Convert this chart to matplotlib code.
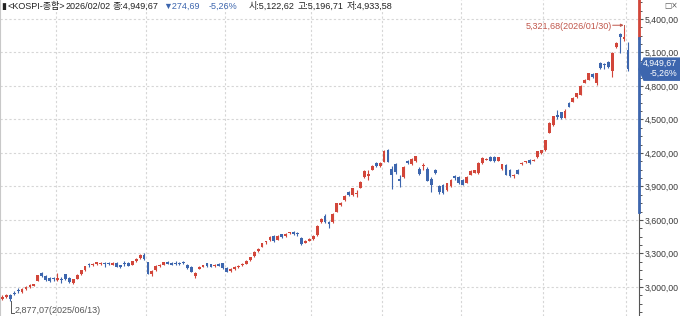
import matplotlib
matplotlib.use("Agg")
import matplotlib.pyplot as plt
import matplotlib.transforms as mtransforms
from matplotlib.patches import Polygon
from matplotlib.ticker import AutoMinorLocator, FixedLocator
import numpy as np

# KOSPI daily candles, 2025/06/11 .. 2026/02/02
opens = [2895, 2910, 2930, 2950, 2975, 2955, 2978, 3000, 3010, 3055, 3125, 3100, 3080, 3075,
         3062, 3070, 3115, 3080, 3035, 3075, 3115, 3150, 3200, 3195, 3205, 3208, 3212, 3216, 3200,
         3216, 3196, 3210, 3215, 3200, 3230, 3258, 3290,
         3220, 3112, 3150, 3185, 3200, 3226, 3216, 3215, 3212, 3228, 3200, 3178, 3095, 3165, 3180,
         3212, 3202, 3185, 3206, 3212,
         3172, 3140, 3160, 3178, 3195, 3210, 3240, 3275, 3320, 3362, 3400, 3420, 3455, 3425, 3470,
         3455, 3482, 3492, 3485, 3440, 3395, 3415,
         3430, 3465, 3585, 3640, 3580, 3580, 3675, 3735, 3775, 3850, 3820, 3830, 3890, 3985, 3990,
         4050, 4110, 4080,
         4120, 4230, 4060, 4100, 3970, 3985, 4130, 4100, 4125, 4060, 4080, 4060, 3970, 4048, 3905,
         3915, 3870, 3900, 3990, 3985,
         3960, 3935, 4005, 4025, 4020, 4110, 4140, 4165, 4165, 4130, 4055, 4095, 4050, 3995, 4050,
         4100, 4115, 4140, 4130, 4160, 4200,
         4225, 4380, 4450, 4540, 4565, 4515, 4650, 4660, 4700, 4720, 4830, 4855, 4905, 4830, 5005,
         4990, 5015, 4930, 5150, 5265, 5221,
         5122.62]
highs = [2925, 2935, 2935, 2960, 2995, 2992, 3005, 3028, 3030, 3110, 3135, 3110, 3090, 3090,
         3125, 3090, 3120, 3088, 3075, 3115, 3155, 3190, 3215, 3215, 3225, 3222, 3222, 3222, 3220,
         3220, 3200, 3236, 3220, 3236, 3255, 3295, 3305,
         3225, 3150, 3195, 3205, 3228, 3232, 3222, 3232, 3222, 3235, 3208, 3185, 3132, 3185, 3200,
         3218, 3210, 3205, 3212, 3218,
         3178, 3168, 3185, 3198, 3215, 3238, 3270, 3318, 3350, 3398, 3415, 3452, 3462, 3465, 3478,
         3480, 3495, 3498, 3490, 3445, 3420, 3435,
         3462, 3555, 3618, 3650, 3590, 3665, 3752, 3760, 3820, 3860, 3890, 3865, 3948, 4048, 4045,
         4090, 4120, 4115,
         4226, 4240, 4080, 4110, 4000, 4080, 4140, 4158, 4175, 4070, 4110, 4070, 3985, 4060, 3915,
         3925, 3935, 3965, 4005, 3992,
         3968, 3990, 4045, 4050, 4115, 4160, 4158, 4172, 4170, 4165, 4105, 4100, 4055, 4010, 4055,
         4115, 4130, 4145, 4145, 4220, 4230,
         4320, 4475, 4535, 4585, 4570, 4590, 4660, 4700, 4740, 4805, 4860, 4920, 4912, 4920, 5015,
         5010, 5020, 5100, 5190, 5275, 5321.68,
         5196.71]
lows = [2885, 2900, 2877.07, 2925, 2950, 2948, 2970, 2995, 3005, 3050, 3090, 3055, 3045, 3055,
        3050, 3040, 3065, 3035, 3025, 3070, 3110, 3145, 3178, 3188, 3198, 3200, 3180, 3195, 3195,
        3175, 3168, 3188, 3185, 3195, 3225, 3252, 3245,
        3112, 3100, 3145, 3178, 3195, 3205, 3195, 3195, 3198, 3205, 3165, 3130, 3078, 3160, 3175,
        3180, 3175, 3178, 3185, 3160,
        3130, 3135, 3150, 3172, 3190, 3205, 3235, 3270, 3315, 3355, 3385, 3412, 3405, 3418, 3435,
        3450, 3470, 3462, 3455, 3375, 3390, 3410,
        3425, 3460, 3570, 3570, 3530, 3575, 3668, 3725, 3770, 3815, 3815, 3810, 3885, 3980, 3960,
        4045, 4070, 4075,
        4115, 4115, 3880, 4015, 3895, 3980, 4100, 4095, 4120, 4005, 4050, 3950, 3850, 4010, 3830,
        3835, 3860, 3895, 3960, 3925,
        3910, 3930, 4000, 4020, 4015, 4105, 4135, 4125, 4120, 4125, 4050, 4000, 3985, 3980, 4010,
        4095, 4110, 4105, 4125, 4155, 4195,
        4220, 4375, 4445, 4505, 4505, 4510, 4610, 4655, 4695, 4715, 4825, 4850, 4875, 4810, 4955,
        4950, 4965, 4880, 5140, 5095, 5200,
        4933.58]
closes = [2912, 2925, 2895, 2935, 2966, 2985, 3000, 3020, 3025, 3105, 3095, 3060, 3050, 3068,
          3078, 3062, 3070, 3042, 3068, 3110, 3148, 3185, 3194, 3210, 3220, 3216, 3204, 3204, 3214,
          3180, 3175, 3204, 3190, 3230, 3250, 3290, 3250,
          3120, 3145, 3190, 3200, 3222, 3210, 3200, 3208, 3206, 3212, 3172, 3135, 3125, 3180, 3196,
          3186, 3180, 3200, 3190, 3166,
          3138, 3162, 3178, 3192, 3208, 3230, 3264, 3314, 3344, 3393, 3407, 3448, 3412, 3460, 3444,
          3470, 3486, 3470, 3470, 3386, 3415, 3430,
          3455, 3549, 3610, 3584, 3561, 3657, 3748, 3748, 3814, 3823, 3883, 3845, 3941, 4042, 4010,
          4081, 4086, 4107,
          4221, 4121, 4004, 4026, 3953, 4073, 4106, 4150, 4170, 4011, 4089, 3953, 3915, 4020, 3853,
          3846, 3930, 3960, 3978, 3930,
          3915, 3985, 4040, 4045, 4110, 4155, 4150, 4130, 4125, 4160, 4100, 4005, 3990, 4005, 4015,
          4110, 4125, 4110, 4140, 4215, 4225,
          4315, 4470, 4530, 4525, 4510, 4580, 4615, 4695, 4735, 4800, 4855, 4915, 4880, 4915, 4960,
          4984, 4970, 5095, 5185, 5240, 5239,
          4949.67]

month_starts = [14, 37, 57, 79, 97, 117, 138, 159]   # first candle of Jul .. Feb
yticks = [3000, 3300, 3600, 3900, 4200, 4500, 4800, 5100, 5400]
high_label = "5,321,68(2026/01/30)"
low_label = "2,877,07(2025/06/13)"
header = ["▮", "<KOSPI-종합>", "2026/02/02", "종:4,949,67", "▼274,69", "-5,26%",
          "시:5,122,62", "고:5,196,71", "저:4,933,58"]
tag_lines = ["4,949,67", "-5,26%"]

RED = "#d2463a"
BLUE = "#3d66ae"
ANN = "#c0564b"
GRID = "#d6d6d6"

plt.rcParams["font.family"] = ["Liberation Sans", "Noto Sans CJK KR", "DejaVu Sans"]

W, H = 680, 316
fig = plt.figure(figsize=(W / 100, H / 100), dpi=100)
ax = fig.add_axes([0, 0, 639 / W, 1])

o = np.array(opens); c = np.array(closes); h = np.array(highs); l = np.array(lows)
x = np.arange(len(c))
cols = np.where(c >= o, RED, BLUE)

# grid
for v in yticks:
    ax.axhline(v, color=GRID, lw=0.8, ls=(0, (2, 2)), zorder=0)
for m in month_starts:
    ax.axvline(m - 0.5, color=GRID, lw=0.8, ls=(0, (2, 2)), zorder=0)

# candles
ax.vlines(x, l, h, colors=cols, lw=0.8, zorder=2)
ax.bar(x, np.maximum(np.abs(c - o), 9), bottom=np.minimum(o, c), width=0.72,
       color=cols, linewidth=0, zorder=3)

ax.set_xlim(-0.61, 161.8)
ax.set_ylim(2740, 5570)

# axes styling
for s in ["top", "bottom"]:
    ax.spines[s].set_visible(False)
ax.spines["left"].set_color("#c8c8c8")
ax.spines["right"].set_color("#555555")
ax.set_xticks([])
ax.yaxis.tick_right()
ax.yaxis.set_major_locator(FixedLocator(yticks))
ax.set_yticklabels([f"{v:,},00" for v in yticks])
ax.yaxis.set_minor_locator(AutoMinorLocator(4))
ax.tick_params(axis="y", which="major", direction="out", length=3, width=0.8,
               color="#555555", labelsize=6.3, labelcolor="#3a3a3a", pad=1)
ax.tick_params(axis="y", which="minor", direction="out", length=1.8, width=0.7, color="#555555")

# colored bar on the price axis
bt = mtransforms.blended_transform_factory(ax.transAxes, ax.transData)
ax.plot([1, 1], [5230, 5570], color=RED, lw=2, transform=bt, clip_on=False, zorder=5)
ax.plot([1, 1], [3672, 5230], color=BLUE, lw=2, transform=bt, clip_on=False, zorder=5)

# current price tag
last = closes[-1]
px = 1 / 639
tag = Polygon([(1.0, last), (1 + 5 * px, last + 100), (1 + 41 * px, last + 100),
               (1 + 41 * px, last - 98), (1 + 5 * px, last - 98)],
              closed=True, transform=bt, clip_on=False, color=BLUE, zorder=6)
ax.add_patch(tag)
ax.text(1 + 38 * px, last + 52, tag_lines[0], transform=bt, ha="right", va="center",
        color="white", fontsize=6.3, zorder=7, clip_on=False)
ax.text(1 + 38 * px, last - 35, tag_lines[1], transform=bt, ha="right", va="center",
        color="white", fontsize=6.3, zorder=7, clip_on=False)

# high / low markers
ax.text(154.95, 5331, high_label, ha="right", va="center", color=ANN, fontsize=6.5)
ax.annotate("", xy=(157.9, 5344), xytext=(155.1, 5344),
            arrowprops=dict(arrowstyle="-|>", color=ANN, lw=0.7, mutation_scale=4,
                            shrinkA=0, shrinkB=0))
ax.plot([158, 158], [5344, highs[-2]], color=ANN, lw=0.7)

ax.plot([2.1, 2.1, 3.0], [lows[2], 2767, 2767], color="#555555", lw=0.7)
ax.text(3.2, 2792, low_label, ha="left", va="center", color="#555555", fontsize=6.5)

# header line, pieces laid out one after another
renderer = fig.canvas.get_renderer()
gaps = [1, 1, 2, 5, 8, 12, 3, 3, 0]
xp = 1
for txt, gap in zip(header, gaps):
    col = BLUE if txt.startswith(("▼", "-")) else "#222222"
    t = fig.text(xp / W, 1 - 6.5 / H, txt, ha="left", va="center", fontsize=6.5, color=col)
    xp = t.get_window_extent(renderer).x1 + gap
fig.text(664 / W, 1 - 5.5 / H, "□×", ha="left", va="center", fontsize=5.5,
         color="#555555", family=["DejaVu Sans"])

fig.savefig("out.png", dpi=100)
